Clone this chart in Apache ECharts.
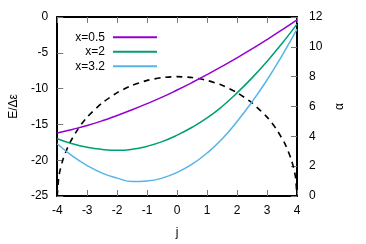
<!DOCTYPE html>
<html>
<head>
<meta charset="utf-8">
<script src="https://cdn.jsdelivr.net/npm/echarts@6/dist/echarts.min.js"></script>
<style>html,body{margin:0;padding:0;background:#fff}#c{width:366px;height:244px}</style>
</head>
<body>
<div id="c"></div>
<script>
var jVals = [-4, -3.5, -3, -2.5, -2, -1.5, -1, -0.5, 0, 0.5, 1, 1.5, 2, 2.5, 3, 3.5, 4];
var seriesNames = ['x=0.5', 'x=2', 'x=3.2'];
var e05 = [-16.2, -15.7, -15.15, -14.5, -13.75, -12.95, -12.1, -11.2, -10.2, -9.15, -8.05, -6.9, -5.7, -4.45, -3.15, -1.8, -0.4];
var e2  = [-17.0, -17.7, -18.2, -18.5, -18.62, -18.47, -18.05, -17.4, -16.5, -15.4, -14.1, -12.5, -10.6, -8.5, -6.2, -3.7, -1.0];
var e32 = [-17.7, -19.4, -20.75, -21.8, -22.5, -22.98, -22.9, -22.5, -21.7, -20.55, -19.0, -17.05, -14.6, -11.85, -8.8, -5.4, -1.7];
var alphaJ = [-4, -3.95, -3.9, -3.8, -3.6, -3.3, -3, -2.5, -2, -1.5, -1, -0.5, 0, 0.5, 1, 1.5, 2, 2.5, 3, 3.3, 3.6, 3.8, 3.9, 3.95, 4];
var alphaV = [0, 1.26, 1.78, 2.5, 3.49, 4.52, 5.29, 6.24, 6.93, 7.42, 7.75, 7.94, 8.0, 7.94, 7.75, 7.42, 6.93, 6.24, 5.29, 4.52, 3.49, 2.5, 1.78, 1.26, 0];
var colors = ['#9400d3', '#009e73', '#56b4e9'];

function pairs(xs, ys) { return xs.map(function (x, i) { return [x, ys[i]]; }); }

var font = 'Liberation Sans, Arial, sans-serif';
var tickStyle = { show: true, inside: true, length: 6, lineStyle: { color: '#777', width: 1 } };
var lineStyleAxis = { show: true, onZero: false, lineStyle: { color: '#000', width: 2 } };

var chart = echarts.init(document.getElementById('c'), null, { renderer: 'canvas' });
var eData = [e05, e2, e32];
var series = eData.map(function (arr, i) {
  return {
    name: seriesNames[i], type: 'line', xAxisIndex: 0, yAxisIndex: 0,
    data: pairs(jVals, arr), smooth: 0.5, showSymbol: false, symbol: 'none',
    lineStyle: { color: colors[i], width: 1.5 }, itemStyle: { color: colors[i] }, z: 3
  };
});
series.push({
  name: 'alpha', type: 'line', xAxisIndex: 0, yAxisIndex: 1,
  data: pairs(alphaJ, alphaV), smooth: 0.2, showSymbol: false, symbol: 'none',
  lineStyle: { color: '#000', width: 1.6, type: [6, 5] }, z: 2
});

chart.setOption({
  animation: false,
  backgroundColor: '#fff',
  textStyle: { fontFamily: font },
  grid: { left: 53, right: 69, top: 17, bottom: 46, containLabel: false },
  legend: {
    data: seriesNames, orient: 'vertical', left: 60, top: 25, align: 'right',
    itemWidth: 44, itemHeight: 2, itemGap: 0, icon: 'rect', selectedMode: false,
    textStyle: { fontFamily: font, fontSize: 12, color: '#000', width: 40, align: 'right', lineHeight: 14.5, padding: [0, 3, 0, 0] }
  },
  xAxis: [{
    type: 'value', min: -4, max: 4, interval: 1, position: 'bottom',
    name: 'j', nameLocation: 'middle', nameGap: 31,
    nameTextStyle: { fontFamily: font, fontSize: 12, color: '#000' },
    axisLine: lineStyleAxis, axisTick: tickStyle, splitLine: { show: false },
    axisLabel: { fontFamily: font, fontSize: 12, color: '#000', margin: 9 }
  }, {
    type: 'value', min: -4, max: 4, interval: 1, position: 'top',
    axisLine: lineStyleAxis, axisTick: tickStyle, splitLine: { show: false },
    axisLabel: { show: false }
  }],
  yAxis: [{
    type: 'value', min: -25, max: 0, interval: 5, position: 'left',
    name: 'E/Δε', nameLocation: 'middle', nameGap: 32, nameRotate: 90,
    nameTextStyle: { fontFamily: font, fontSize: 12, color: '#000' },
    axisLine: lineStyleAxis, axisTick: tickStyle, splitLine: { show: false },
    axisLabel: { fontFamily: font, fontSize: 12, color: '#000', margin: 9 }
  }, {
    type: 'value', min: 0, max: 12, interval: 2, position: 'right',
    name: 'α', nameLocation: 'middle', nameGap: 25, nameRotate: 90,
    nameTextStyle: { fontFamily: font, fontSize: 12, color: '#000' },
    axisLine: lineStyleAxis, axisTick: tickStyle, splitLine: { show: false },
    axisLabel: { fontFamily: font, fontSize: 12, color: '#000', margin: 12 }
  }],
  series: series
});
</script>
</body>
</html>
